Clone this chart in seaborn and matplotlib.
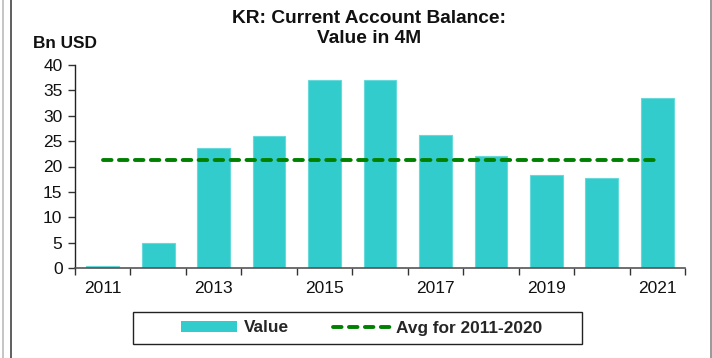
import numpy as np
import matplotlib
matplotlib.use("Agg")
import matplotlib.pyplot as plt
from matplotlib.patches import Patch, Rectangle
from matplotlib.lines import Line2D
import seaborn as sns

# Korea current account balance, Jan-Apr total of each year (bn USD)
years = ["2011", "2012", "2013", "2014", "2015", "2016",
         "2017", "2018", "2019", "2020", "2021"]
values = [0.3, 5.0, 23.6, 26.0, 37.1, 37.1, 26.2, 22.0, 18.3, 17.8, 33.5]
avg_years = years[:10]          # 2011-2020 window for the average
yticks = [0, 5, 10, 15, 20, 25, 30, 35, 40]
label_years = ["2011", "2013", "2015", "2017", "2019", "2021"]

bar_color = "#33CCCC"
avg_color = "#008000"

sns.set_theme(style="white")
plt.rcParams["font.family"] = ["Liberation Sans", "DejaVu Sans"]

W, H = 712, 358
fig = plt.figure(figsize=(W / 100, H / 100), dpi=100)
ax = fig.add_axes([75 / W, 1 - 268 / H, (685 - 75) / W, (268 - 65) / H])

sns.barplot(x=years, y=values, color=bar_color, saturation=1, width=0.59,
            edgecolor="#66DADA", linewidth=0.8, ax=ax)

avg = float(np.mean(values[:len(avg_years)]))
pos = np.arange(len(years))
ax.plot(pos, np.full(len(years), avg), color=avg_color, lw=2.8,
        dashes=(2.2, 1.9), dash_capstyle="round", zorder=3)

ax.set_ylim(0, 40)
ax.set_xlim(-0.5, len(years) - 0.5)
ax.set_yticks(yticks)
ax.set_yticklabels([str(v) for v in yticks])

# ticks on category boundaries, labels on every other category centre
ax.set_xticks(np.arange(-0.5, len(years), 1.0))
ax.set_xticklabels([])
ax.set_xticks([years.index(y) for y in label_years], minor=True)
ax.set_xticklabels(label_years, minor=True)
ax.tick_params(axis="x", which="major", length=5, width=1, color="#333333",
               direction="out", bottom=True)
ax.tick_params(axis="x", which="minor", length=0, pad=9.5, labelsize=12.5,
               labelcolor="#111111")
ax.tick_params(axis="y", length=5, width=1, color="#333333", direction="out",
               left=True, pad=4, labelsize=12.5, labelcolor="#111111")

for s in ["top", "right"]:
    ax.spines[s].set_visible(False)
ax.spines["left"].set_color("#222222")
ax.spines["bottom"].set_color("#555555")
ax.spines["left"].set_linewidth(1)
ax.spines["bottom"].set_linewidth(1.2)
ax.set_xlabel("")
ax.set_ylabel("")
ax.grid(False)

fig.text(369.5 / W, 1 - 10 / H,
         "KR: Current Account Balance:\nValue in 4M",
         ha="center", va="top", fontsize=13.8, fontweight="bold",
         linespacing=1.2, color="#111111")
fig.text(33 / W, 1 - 44 / H, "Bn USD", ha="left", va="center",
         fontsize=12.4, fontweight="bold", color="#111111")

handles = [
    Patch(facecolor=bar_color, edgecolor="none", label="Value"),
    Line2D([0], [0], color=avg_color, lw=2.8, dashes=(2.2, 1.9),
           dash_capstyle="round", label="Avg for 2011-2020"),
]
fig.legend(handles=handles, loc="center", ncol=2, frameon=False,
           bbox_to_anchor=(361.5 / W, 1 - 328 / H),
           prop={"family": "Liberation Sans", "weight": "bold", "size": 12.4},
           handlelength=3.3, handleheight=0.55, handletextpad=0.35,
           columnspacing=2.6, borderpad=0.2)
fig.add_artist(Rectangle((133 / W, 1 - 344 / H), (582 - 133) / W, 32 / H,
                         transform=fig.transFigure, fill=False,
                         edgecolor="#222222", lw=1))

# outer frame edges
fig.add_artist(Line2D([3 / W, 3 / W], [0, 1], transform=fig.transFigure,
                      color="#BBBBBB", lw=1.2))
fig.add_artist(Line2D([11 / W, 11 / W], [0, 1], transform=fig.transFigure,
                      color="#444444", lw=1.2))
fig.add_artist(Line2D([710.5 / W, 710.5 / W], [0, 1], transform=fig.transFigure,
                      color="#888888", lw=1.2))

fig.savefig("out.png", dpi=100)
